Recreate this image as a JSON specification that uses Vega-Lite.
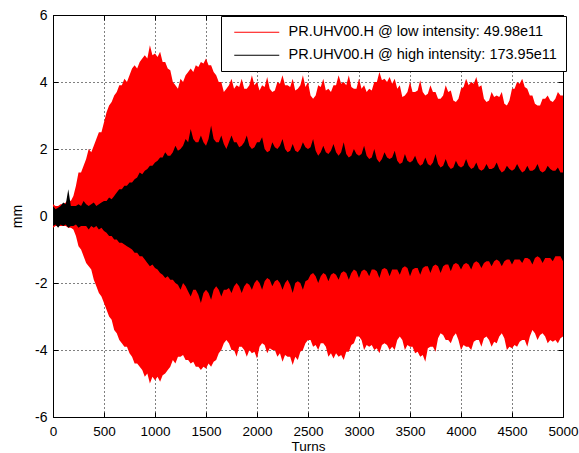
{
  "$schema": "https://vega.github.io/schema/vega-lite/v6.json",
  "width": 510,
  "height": 402,
  "autosize": {"type": "none"},
  "padding": {"left": 53, "top": 15, "right": 16, "bottom": 36},
  "background": "white",
  "config": {
    "view": {"stroke": "black", "strokeWidth": 1},
    "font": "Liberation Sans",
    "axis": {
      "labelFont": "Liberation Sans",
      "labelFontSize": 14,
      "labelColor": "black",
      "titleFont": "Liberation Sans",
      "titleFontSize": 14,
      "titleFontWeight": "normal",
      "titleColor": "black",
      "domain": false,
      "tickColor": "black",
      "tickSize": -5,
      "gridColor": "black",
      "gridOpacity": 1,
      "gridDash": [1, 3],
      "gridWidth": 1
    }
  },
  "data": {
    "values": [
      {"t":0,"rh":0.35,"rl":-0.35,"bh":0.3,"bl":-0.3},
      {"t":25,"rh":0.3,"rl":-0.3,"bh":0.2,"bl":-0.25},
      {"t":50,"rh":0.3,"rl":-0.3,"bh":0.25,"bl":-0.35},
      {"t":75,"rh":0.35,"rl":-0.3,"bh":0.3,"bl":-0.25},
      {"t":100,"rh":0.35,"rl":-0.3,"bh":0.4,"bl":-0.3},
      {"t":125,"rh":0.4,"rl":-0.3,"bh":0.35,"bl":-0.25},
      {"t":150,"rh":0.5,"rl":-0.35,"bh":0.8,"bl":-0.35},
      {"t":175,"rh":0.45,"rl":-0.35,"bh":0.3,"bl":-0.3},
      {"t":200,"rh":0.6,"rl":-0.4,"bh":0.3,"bl":-0.3},
      {"t":225,"rh":0.9,"rl":-0.6,"bh":0.3,"bl":-0.25},
      {"t":250,"rh":1.3,"rl":-0.9,"bh":0.35,"bl":-0.35},
      {"t":275,"rh":1.3,"rl":-1.0,"bh":0.3,"bl":-0.3},
      {"t":300,"rh":1.5,"rl":-1.2,"bh":0.45,"bl":-0.3},
      {"t":325,"rh":1.7,"rl":-1.4,"bh":0.35,"bl":-0.3},
      {"t":350,"rh":2.0,"rl":-1.5,"bh":0.3,"bl":-0.4},
      {"t":375,"rh":1.9,"rl":-1.6,"bh":0.35,"bl":-0.3},
      {"t":400,"rh":2.1,"rl":-1.9,"bh":0.4,"bl":-0.35},
      {"t":425,"rh":2.3,"rl":-2.1,"bh":0.3,"bl":-0.3},
      {"t":450,"rh":2.5,"rl":-2.3,"bh":0.35,"bl":-0.4},
      {"t":475,"rh":2.5,"rl":-2.4,"bh":0.4,"bl":-0.35},
      {"t":500,"rh":2.8,"rl":-2.6,"bh":0.45,"bl":-0.45},
      {"t":525,"rh":3.1,"rl":-2.8,"bh":0.45,"bl":-0.5},
      {"t":550,"rh":3.3,"rl":-3.0,"bh":0.55,"bl":-0.6},
      {"t":575,"rh":3.4,"rl":-3.1,"bh":0.5,"bl":-0.6},
      {"t":600,"rh":3.6,"rl":-3.4,"bh":0.6,"bl":-0.7},
      {"t":625,"rh":3.7,"rl":-3.5,"bh":0.7,"bl":-0.7},
      {"t":650,"rh":3.9,"rl":-3.7,"bh":0.8,"bl":-0.8},
      {"t":675,"rh":3.9,"rl":-3.8,"bh":0.8,"bl":-0.8},
      {"t":700,"rh":4.1,"rl":-3.9,"bh":0.9,"bl":-0.85},
      {"t":725,"rh":4.0,"rl":-3.9,"bh":0.9,"bl":-0.9},
      {"t":750,"rh":4.2,"rl":-4.1,"bh":1.0,"bl":-0.95},
      {"t":775,"rh":4.4,"rl":-4.2,"bh":1.0,"bl":-1.0},
      {"t":800,"rh":4.5,"rl":-4.4,"bh":1.1,"bl":-1.1},
      {"t":825,"rh":4.4,"rl":-4.4,"bh":1.15,"bl":-1.1},
      {"t":850,"rh":4.6,"rl":-4.5,"bh":1.3,"bl":-1.2},
      {"t":875,"rh":4.7,"rl":-4.6,"bh":1.25,"bl":-1.2},
      {"t":900,"rh":4.8,"rl":-4.8,"bh":1.35,"bl":-1.3},
      {"t":925,"rh":4.7,"rl":-4.7,"bh":1.4,"bl":-1.4},
      {"t":950,"rh":5.1,"rl":-5.0,"bh":1.5,"bl":-1.5},
      {"t":975,"rh":4.8,"rl":-4.8,"bh":1.5,"bl":-1.45},
      {"t":1000,"rh":4.85,"rl":-4.9,"bh":1.6,"bl":-1.55},
      {"t":1025,"rh":4.75,"rl":-4.8,"bh":1.65,"bl":-1.6},
      {"t":1050,"rh":4.9,"rl":-4.95,"bh":1.75,"bl":-1.7},
      {"t":1075,"rh":4.6,"rl":-4.75,"bh":1.75,"bl":-1.75},
      {"t":1100,"rh":4.6,"rl":-4.7,"bh":1.9,"bl":-1.85},
      {"t":1125,"rh":4.4,"rl":-4.6,"bh":1.8,"bl":-1.8},
      {"t":1150,"rh":4.35,"rl":-4.5,"bh":1.8,"bl":-1.9},
      {"t":1175,"rh":4.0,"rl":-4.3,"bh":1.9,"bl":-1.9},
      {"t":1200,"rh":3.9,"rl":-4.4,"bh":2.1,"bl":-2.0},
      {"t":1225,"rh":3.8,"rl":-4.2,"bh":1.95,"bl":-2.05},
      {"t":1250,"rh":4.1,"rl":-4.2,"bh":2.0,"bl":-2.2},
      {"t":1275,"rh":4.0,"rl":-4.15,"bh":2.1,"bl":-2.0},
      {"t":1300,"rh":4.2,"rl":-4.3,"bh":2.3,"bl":-2.1},
      {"t":1325,"rh":4.3,"rl":-4.3,"bh":2.2,"bl":-2.25},
      {"t":1350,"rh":4.4,"rl":-4.4,"bh":2.6,"bl":-2.4},
      {"t":1375,"rh":4.3,"rl":-4.35,"bh":2.3,"bl":-2.2},
      {"t":1400,"rh":4.5,"rl":-4.5,"bh":2.2,"bl":-2.2},
      {"t":1425,"rh":4.45,"rl":-4.5,"bh":2.2,"bl":-2.35},
      {"t":1450,"rh":4.6,"rl":-4.6,"bh":2.4,"bl":-2.6},
      {"t":1475,"rh":4.55,"rl":-4.5,"bh":2.2,"bl":-2.3},
      {"t":1500,"rh":4.7,"rl":-4.55,"bh":2.1,"bl":-2.2},
      {"t":1525,"rh":4.5,"rl":-4.4,"bh":2.3,"bl":-2.3},
      {"t":1550,"rh":4.5,"rl":-4.5,"bh":2.7,"bl":-2.5},
      {"t":1575,"rh":4.3,"rl":-4.35,"bh":2.3,"bl":-2.2},
      {"t":1600,"rh":4.2,"rl":-4.3,"bh":2.2,"bl":-2.1},
      {"t":1625,"rh":4.0,"rl":-4.1,"bh":2.2,"bl":-2.2},
      {"t":1650,"rh":4.0,"rl":-4.0,"bh":2.4,"bl":-2.4},
      {"t":1675,"rh":3.7,"rl":-3.8,"bh":2.15,"bl":-2.2},
      {"t":1700,"rh":3.8,"rl":-3.7,"bh":2.0,"bl":-2.2},
      {"t":1725,"rh":3.9,"rl":-3.8,"bh":2.2,"bl":-2.15},
      {"t":1750,"rh":4.1,"rl":-4.0,"bh":2.4,"bl":-2.3},
      {"t":1775,"rh":3.8,"rl":-4.0,"bh":2.2,"bl":-2.1},
      {"t":1800,"rh":3.9,"rl":-4.2,"bh":2.2,"bl":-2.0},
      {"t":1825,"rh":3.85,"rl":-3.9,"bh":2.05,"bl":-2.1},
      {"t":1850,"rh":4.1,"rl":-3.9,"bh":2.1,"bl":-2.3},
      {"t":1875,"rh":3.8,"rl":-4.0,"bh":2.2,"bl":-2.1},
      {"t":1900,"rh":3.8,"rl":-4.2,"bh":2.4,"bl":-2.0},
      {"t":1925,"rh":3.9,"rl":-4.0,"bh":2.1,"bl":-2.05},
      {"t":1950,"rh":4.2,"rl":-4.1,"bh":2.0,"bl":-2.2},
      {"t":1975,"rh":3.9,"rl":-4.05,"bh":2.05,"bl":-2.0},
      {"t":2000,"rh":4.0,"rl":-4.25,"bh":2.2,"bl":-1.9},
      {"t":2025,"rh":3.75,"rl":-3.9,"bh":2.2,"bl":-2.0},
      {"t":2050,"rh":3.9,"rl":-3.8,"bh":2.35,"bl":-2.2},
      {"t":2075,"rh":3.85,"rl":-3.85,"bh":2.0,"bl":-1.95},
      {"t":2100,"rh":4.15,"rl":-4.1,"bh":1.9,"bl":-1.85},
      {"t":2125,"rh":3.8,"rl":-3.95,"bh":1.95,"bl":-1.9},
      {"t":2150,"rh":3.7,"rl":-4.0,"bh":2.2,"bl":-2.1},
      {"t":2175,"rh":3.75,"rl":-4.0,"bh":2.05,"bl":-1.95},
      {"t":2200,"rh":4.0,"rl":-4.2,"bh":2.0,"bl":-1.9},
      {"t":2225,"rh":3.95,"rl":-4.1,"bh":2.1,"bl":-2.0},
      {"t":2250,"rh":4.2,"rl":-4.35,"bh":2.3,"bl":-2.2},
      {"t":2275,"rh":3.9,"rl":-4.15,"bh":2.0,"bl":-2.0},
      {"t":2300,"rh":3.9,"rl":-4.2,"bh":1.9,"bl":-1.9},
      {"t":2325,"rh":3.85,"rl":-4.2,"bh":1.95,"bl":-2.05},
      {"t":2350,"rh":4.1,"rl":-4.45,"bh":2.15,"bl":-2.3},
      {"t":2375,"rh":3.75,"rl":-4.2,"bh":1.95,"bl":-2.0},
      {"t":2400,"rh":3.8,"rl":-4.3,"bh":1.9,"bl":-1.95},
      {"t":2425,"rh":3.9,"rl":-4.05,"bh":2.0,"bl":-2.0},
      {"t":2450,"rh":4.2,"rl":-4.0,"bh":2.2,"bl":-2.2},
      {"t":2475,"rh":3.85,"rl":-3.8,"bh":2.05,"bl":-1.95},
      {"t":2500,"rh":4.0,"rl":-3.7,"bh":2.0,"bl":-1.9},
      {"t":2525,"rh":3.6,"rl":-3.7,"bh":2.05,"bl":-1.75},
      {"t":2550,"rh":3.5,"rl":-3.9,"bh":2.3,"bl":-1.7},
      {"t":2575,"rh":3.6,"rl":-3.85,"bh":1.95,"bl":-1.8},
      {"t":2600,"rh":3.9,"rl":-4.0,"bh":1.8,"bl":-2.0},
      {"t":2625,"rh":3.85,"rl":-3.8,"bh":1.9,"bl":-1.8},
      {"t":2650,"rh":4.1,"rl":-3.8,"bh":2.1,"bl":-1.7},
      {"t":2675,"rh":3.75,"rl":-3.9,"bh":1.9,"bl":-1.75},
      {"t":2700,"rh":3.8,"rl":-4.2,"bh":1.85,"bl":-1.95},
      {"t":2725,"rh":3.7,"rl":-4.1,"bh":1.95,"bl":-1.75},
      {"t":2750,"rh":3.9,"rl":-4.25,"bh":2.15,"bl":-1.7},
      {"t":2775,"rh":3.9,"rl":-4.1,"bh":1.9,"bl":-1.75},
      {"t":2800,"rh":4.2,"rl":-4.2,"bh":1.8,"bl":-1.9},
      {"t":2825,"rh":3.95,"rl":-4.15,"bh":1.9,"bl":-1.7},
      {"t":2850,"rh":4.0,"rl":-4.3,"bh":2.2,"bl":-1.65},
      {"t":2875,"rh":3.9,"rl":-4.05,"bh":1.85,"bl":-1.7},
      {"t":2900,"rh":4.2,"rl":-4.05,"bh":1.75,"bl":-1.9},
      {"t":2925,"rh":3.85,"rl":-3.85,"bh":1.8,"bl":-1.7},
      {"t":2950,"rh":3.8,"rl":-3.8,"bh":2.0,"bl":-1.6},
      {"t":2975,"rh":3.8,"rl":-3.6,"bh":1.85,"bl":-1.65},
      {"t":3000,"rh":4.1,"rl":-3.6,"bh":1.8,"bl":-1.85},
      {"t":3025,"rh":3.8,"rl":-3.7,"bh":1.85,"bl":-1.65},
      {"t":3050,"rh":3.9,"rl":-4.0,"bh":2.1,"bl":-1.6},
      {"t":3075,"rh":3.7,"rl":-3.85,"bh":1.8,"bl":-1.65},
      {"t":3100,"rh":3.8,"rl":-3.9,"bh":1.7,"bl":-1.8},
      {"t":3125,"rh":3.75,"rl":-3.85,"bh":1.75,"bl":-1.6},
      {"t":3150,"rh":4.0,"rl":-4.0,"bh":2.0,"bl":-1.6},
      {"t":3175,"rh":4.0,"rl":-3.95,"bh":1.7,"bl":-1.65},
      {"t":3200,"rh":4.3,"rl":-4.1,"bh":1.6,"bl":-1.85},
      {"t":3225,"rh":4.05,"rl":-3.85,"bh":1.7,"bl":-1.6},
      {"t":3250,"rh":4.1,"rl":-3.8,"bh":1.9,"bl":-1.55},
      {"t":3275,"rh":4.0,"rl":-3.85,"bh":1.75,"bl":-1.6},
      {"t":3300,"rh":4.15,"rl":-4.0,"bh":1.7,"bl":-1.8},
      {"t":3325,"rh":3.95,"rl":-3.9,"bh":1.75,"bl":-1.6},
      {"t":3350,"rh":4.1,"rl":-4.0,"bh":1.95,"bl":-1.6},
      {"t":3375,"rh":3.8,"rl":-3.7,"bh":1.65,"bl":-1.6},
      {"t":3400,"rh":3.9,"rl":-3.6,"bh":1.55,"bl":-1.75},
      {"t":3425,"rh":3.55,"rl":-3.7,"bh":1.6,"bl":-1.55},
      {"t":3450,"rh":3.6,"rl":-4.0,"bh":1.85,"bl":-1.5},
      {"t":3475,"rh":3.7,"rl":-3.85,"bh":1.65,"bl":-1.55},
      {"t":3500,"rh":4.0,"rl":-3.9,"bh":1.6,"bl":-1.8},
      {"t":3525,"rh":3.7,"rl":-3.9,"bh":1.65,"bl":-1.6},
      {"t":3550,"rh":3.7,"rl":-4.1,"bh":1.8,"bl":-1.55},
      {"t":3575,"rh":3.75,"rl":-4.05,"bh":1.6,"bl":-1.55},
      {"t":3600,"rh":4.05,"rl":-4.2,"bh":1.5,"bl":-1.75},
      {"t":3625,"rh":3.7,"rl":-4.15,"bh":1.55,"bl":-1.55},
      {"t":3650,"rh":3.6,"rl":-4.35,"bh":1.75,"bl":-1.5},
      {"t":3675,"rh":3.65,"rl":-3.95,"bh":1.55,"bl":-1.5},
      {"t":3700,"rh":3.9,"rl":-3.9,"bh":1.5,"bl":-1.7},
      {"t":3725,"rh":3.7,"rl":-3.9,"bh":1.6,"bl":-1.5},
      {"t":3750,"rh":3.7,"rl":-4.05,"bh":1.85,"bl":-1.45},
      {"t":3775,"rh":3.5,"rl":-3.65,"bh":1.55,"bl":-1.5},
      {"t":3800,"rh":3.5,"rl":-3.5,"bh":1.45,"bl":-1.7},
      {"t":3825,"rh":3.6,"rl":-3.55,"bh":1.5,"bl":-1.5},
      {"t":3850,"rh":3.9,"rl":-3.7,"bh":1.7,"bl":-1.45},
      {"t":3875,"rh":3.7,"rl":-3.7,"bh":1.5,"bl":-1.45},
      {"t":3900,"rh":3.75,"rl":-3.8,"bh":1.4,"bl":-1.65},
      {"t":3925,"rh":3.45,"rl":-3.6,"bh":1.45,"bl":-1.45},
      {"t":3950,"rh":3.4,"rl":-3.5,"bh":1.65,"bl":-1.4},
      {"t":3975,"rh":3.5,"rl":-3.7,"bh":1.5,"bl":-1.45},
      {"t":4000,"rh":3.8,"rl":-4.0,"bh":1.45,"bl":-1.6},
      {"t":4025,"rh":3.85,"rl":-3.85,"bh":1.5,"bl":-1.45},
      {"t":4050,"rh":4.1,"rl":-3.9,"bh":1.7,"bl":-1.4},
      {"t":4075,"rh":3.9,"rl":-3.9,"bh":1.5,"bl":-1.45},
      {"t":4100,"rh":4.0,"rl":-4.0,"bh":1.4,"bl":-1.6},
      {"t":4125,"rh":3.95,"rl":-3.75,"bh":1.45,"bl":-1.4},
      {"t":4150,"rh":4.15,"rl":-3.7,"bh":1.6,"bl":-1.35},
      {"t":4175,"rh":3.85,"rl":-3.7,"bh":1.4,"bl":-1.4},
      {"t":4200,"rh":3.9,"rl":-3.9,"bh":1.35,"bl":-1.55},
      {"t":4225,"rh":3.5,"rl":-3.65,"bh":1.4,"bl":-1.4},
      {"t":4250,"rh":3.4,"rl":-3.6,"bh":1.55,"bl":-1.35},
      {"t":4275,"rh":3.45,"rl":-3.7,"bh":1.4,"bl":-1.35},
      {"t":4300,"rh":3.7,"rl":-3.9,"bh":1.4,"bl":-1.5},
      {"t":4325,"rh":3.55,"rl":-3.75,"bh":1.45,"bl":-1.35},
      {"t":4350,"rh":3.6,"rl":-3.8,"bh":1.6,"bl":-1.3},
      {"t":4375,"rh":3.55,"rl":-3.6,"bh":1.4,"bl":-1.35},
      {"t":4400,"rh":3.7,"rl":-3.5,"bh":1.3,"bl":-1.5},
      {"t":4425,"rh":3.35,"rl":-3.65,"bh":1.35,"bl":-1.35},
      {"t":4450,"rh":3.3,"rl":-4.0,"bh":1.5,"bl":-1.3},
      {"t":4475,"rh":3.45,"rl":-3.9,"bh":1.4,"bl":-1.3},
      {"t":4500,"rh":3.8,"rl":-3.95,"bh":1.35,"bl":-1.45},
      {"t":4525,"rh":3.8,"rl":-3.85,"bh":1.4,"bl":-1.3},
      {"t":4550,"rh":4.0,"rl":-3.9,"bh":1.55,"bl":-1.3},
      {"t":4575,"rh":3.95,"rl":-3.75,"bh":1.4,"bl":-1.3},
      {"t":4600,"rh":4.1,"rl":-3.7,"bh":1.3,"bl":-1.4},
      {"t":4625,"rh":3.85,"rl":-3.7,"bh":1.35,"bl":-1.25},
      {"t":4650,"rh":3.8,"rl":-3.9,"bh":1.5,"bl":-1.25},
      {"t":4675,"rh":3.6,"rl":-3.6,"bh":1.35,"bl":-1.3},
      {"t":4700,"rh":3.6,"rl":-3.4,"bh":1.35,"bl":-1.45},
      {"t":4725,"rh":3.35,"rl":-3.5,"bh":1.4,"bl":-1.25},
      {"t":4750,"rh":3.3,"rl":-3.7,"bh":1.55,"bl":-1.2},
      {"t":4775,"rh":3.3,"rl":-3.55,"bh":1.35,"bl":-1.25},
      {"t":4800,"rh":3.5,"rl":-3.5,"bh":1.3,"bl":-1.4},
      {"t":4825,"rh":3.5,"rl":-3.6,"bh":1.35,"bl":-1.25},
      {"t":4850,"rh":3.6,"rl":-3.8,"bh":1.5,"bl":-1.25},
      {"t":4875,"rh":3.45,"rl":-3.7,"bh":1.4,"bl":-1.25},
      {"t":4900,"rh":3.4,"rl":-3.75,"bh":1.35,"bl":-1.35},
      {"t":4925,"rh":3.5,"rl":-3.7,"bh":1.35,"bl":-1.2},
      {"t":4950,"rh":3.7,"rl":-3.8,"bh":1.45,"bl":-1.2},
      {"t":4975,"rh":3.6,"rl":-3.65,"bh":1.3,"bl":-1.2},
      {"t":5000,"rh":3.6,"rl":-3.6,"bh":1.3,"bl":-1.35}
    ]
  },
  "resolve": {"axis": {"x": "independent", "y": "independent"}},
  "layer": [
    {
      "layer": [
        {
          "mark": {"type": "area", "interpolate": "linear"},
          "encoding": {
            "x": {"field": "t", "type": "quantitative", "scale": {"domain": [0, 5000], "nice": false},
              "axis": {"title": "Turns", "values": [0,500,1000,1500,2000,2500,3000,3500,4000,4500,5000], "labelPadding": 12, "labelFontSize": 13.5, "titleFontSize": 13.5, "titlePadding": 2, "labelFlush": false, "labelExpr": "'' + datum.value"}},
            "y": {"field": "rh", "type": "quantitative", "scale": {"domain": [-6, 6], "nice": false},
              "axis": {"title": "mm", "values": [-6,-4,-2,0,2,4,6], "labelPadding": 11, "titlePadding": 10, "labelExpr": "'' + datum.value"}},
            "y2": {"field": "rl"},
            "color": {"datum": "PR.UHV00.H @ low intensity: 49.98e11", "type": "nominal",
              "scale": {"domain": ["PR.UHV00.H @ low intensity: 49.98e11", "PR.UHV00.H @ high intensity: 173.95e11"], "range": ["#ff0000", "#000000"]},
              "legend": {
                "title": null,
                "orient": "none",
                "legendX": 168,
                "legendY": 1,
                "fillColor": "white",
                "strokeColor": "black",
                "padding": 9,
                "rowPadding": 8,
                "labelFont": "Liberation Sans",
                "labelFontSize": 14.5,
                "labelColor": "black",
                "labelLimit": 0,
                "labelOffset": 44,
                "symbolType": "M -1 0 L 14 0",
                "symbolSize": 36,
                "symbolStrokeWidth": 1,
                "encode": {"symbols": {"update": {"stroke": {"scale": "color", "field": "value"}, "fill": {"value": "transparent"}}}}
              }}
          }
        },
        {
          "mark": {"type": "area", "interpolate": "linear"},
          "encoding": {
            "x": {"field": "t", "type": "quantitative"},
            "y": {"field": "bh", "type": "quantitative"},
            "y2": {"field": "bl"},
            "color": {"datum": "PR.UHV00.H @ high intensity: 173.95e11", "type": "nominal"}
          }
        }
      ]
    },
    {
      "mark": {"type": "point", "opacity": 0},
      "encoding": {
        "x": {"field": "t", "type": "quantitative",
          "axis": {"orient": "top", "title": null, "labels": false, "grid": false, "values": [0,500,1000,1500,2000,2500,3000,3500,4000,4500,5000]}},
        "y": {"field": "rh", "type": "quantitative",
          "axis": {"orient": "right", "title": null, "labels": false, "grid": false, "values": [-6,-4,-2,0,2,4,6]}}
      }
    }
  ]
}
